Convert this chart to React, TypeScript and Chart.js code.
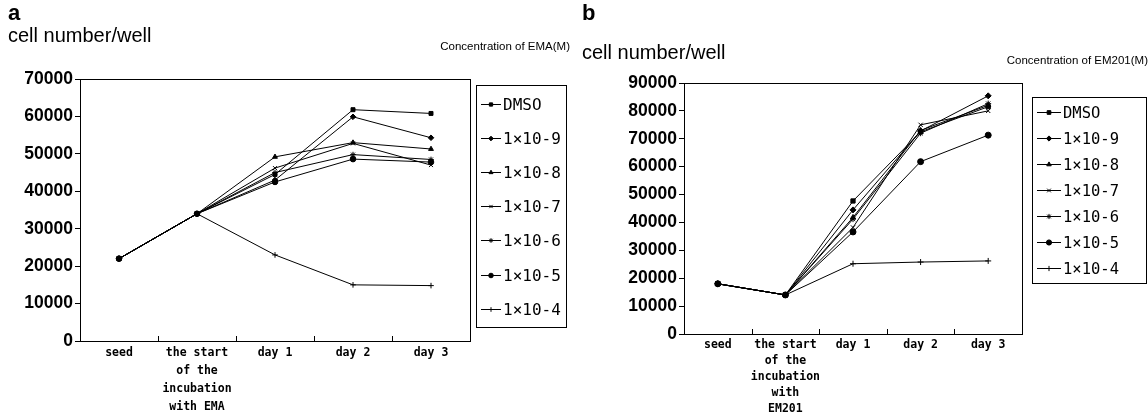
import React, { useEffect, useRef } from 'react';
import { Chart, registerables } from 'chart.js';
import { drawPoint } from 'chart.js/helpers';

Chart.register(...registerables);

// ---------- data ----------
const categoriesA = [['seed'], ['the start', 'of the', 'incubation', 'with EMA'], ['day 1'], ['day 2'], ['day 3']];
const categoriesB = [['seed'], ['the start', 'of the', 'incubation', 'with', 'EM201'], ['day 1'], ['day 2'], ['day 3']];
const seriesNames = ['DMSO', '1×10-9', '1×10-8', '1×10-7', '1×10-6', '1×10-5', '1×10-4'];
const pointStyles = ['rect', 'rectRot', 'triangle', 'crossRot', 'star', 'circle', 'cross'];

const emaDMSO = [22000, 34000, 44500, 61800, 60800];
const emaE9 = [22000, 34000, 43000, 59900, 54300];
const emaE8 = [22000, 34000, 49200, 53000, 51300];
const emaE7 = [22000, 34000, 46200, 52800, 47000];
const emaE6 = [22000, 34000, 45000, 49800, 48500];
const emaE5 = [22000, 34000, 42500, 48600, 47800];
const emaE4 = [22000, 34000, 23000, 15000, 14800];

const emDMSO = [18000, 14000, 47700, 72500, 81500];
const emE9 = [18000, 14000, 44500, 72800, 85400];
const emE8 = [18000, 14000, 41800, 73000, 82000];
const emE7 = [18000, 14000, 38200, 75000, 80000];
const emE6 = [18000, 14000, 41200, 72000, 82600];
const emE5 = [18000, 14000, 36600, 61800, 71300];
const emE4 = [18000, 14000, 25200, 25800, 26200];

const yTicksA = { max: 70000, step: 10000 };
const yTicksB = { max: 90000, step: 10000 };

type PanelCfg = {
  letter: string;
  letterY: number;
  yTitle: string;
  yTitleY: number;
  conc: string;
  concY: number;
  concRight: number;
  legendFont: string;
  legendTop: number;
  legendLeft: number;
  legendRight: number;
  legendRow: number;
  legendPad: number;
  legendLine: number;
  markerR: number;
};

const decorPlugin = {
  id: 'decor',
  afterDraw(chart: any, _args: any, opts: PanelCfg) {
    const ctx = chart.ctx;
    const a = chart.chartArea;
    const xs = chart.scales.x;
    ctx.save();
    ctx.strokeStyle = '#000';
    ctx.lineWidth = 1;
    // plot frame
    ctx.strokeRect(Math.round(a.left) + 0.5, Math.round(a.top) + 0.5, Math.round(a.right - a.left), Math.round(a.bottom - a.top));
    // inner x ticks between categories
    const n = chart.data.labels.length;
    for (let i = 1; i < n; i++) {
      const px = Math.round((xs.getPixelForValue(i - 1) + xs.getPixelForValue(i)) / 2) + 0.5;
      ctx.beginPath();
      ctx.moveTo(px, a.bottom);
      ctx.lineTo(px, a.bottom - 5);
      ctx.stroke();
    }
    // titles
    ctx.fillStyle = '#000';
    ctx.textBaseline = 'alphabetic';
    ctx.textAlign = 'left';
    ctx.font = 'bold 22px "Liberation Sans", Arial, sans-serif';
    ctx.fillText(opts.letter, 8, opts.letterY);
    ctx.font = '20px "Liberation Sans", Arial, sans-serif';
    ctx.fillText(opts.yTitle, 8, opts.yTitleY);
    // legend
    const ds = chart.data.datasets;
    const rows = ds.length;
    const boxTop = opts.legendTop;
    const boxH = opts.legendPad * 2 + opts.legendRow * rows;
    ctx.strokeRect(opts.legendLeft + 0.5, boxTop + 0.5, opts.legendRight - opts.legendLeft, Math.round(boxH));
    ctx.font = opts.legendFont;
    ctx.textBaseline = 'middle';
    for (let i = 0; i < rows; i++) {
      const cy = Math.round(boxTop + opts.legendPad + opts.legendRow * (i + 0.5)) + 0.5;
      const x0 = opts.legendLeft + 5;
      const x1 = x0 + opts.legendLine;
      ctx.beginPath();
      ctx.moveTo(x0, cy);
      ctx.lineTo(x1, cy);
      ctx.stroke();
      drawPoint(ctx, { pointStyle: ds[i].pointStyle, radius: opts.markerR, borderWidth: 1, rotation: 0 } as any, (x0 + x1) / 2, cy);
      ctx.fillText(ds[i].label, x1 + 2, cy + 1);
    }
    // concentration caption
    ctx.textBaseline = 'alphabetic';
    ctx.textAlign = 'right';
    ctx.font = '11.5px "Liberation Sans", Arial, sans-serif';
    ctx.fillText(opts.conc, opts.concRight, opts.concY);
    ctx.restore();
  },
};

function makeConfig(
  labels: string[][],
  series: number[][],
  yt: { max: number; step: number },
  geo: { yW: number; xH: number; top: number; right: number; lineH: number; markerR: number },
  decor: PanelCfg
): any {
  return {
    type: 'line',
    data: {
      labels,
      datasets: series.map((d, i) => ({
        label: seriesNames[i],
        data: d,
        borderColor: '#000',
        backgroundColor: '#000',
        borderWidth: 1,
        pointStyle: pointStyles[i],
        pointRadius: geo.markerR,
        pointBorderWidth: 1,
        pointBorderColor: '#000',
        pointBackgroundColor: '#000',
        tension: 0,
        fill: false,
      })),
    },
    options: {
      responsive: false,
      animation: false,
      events: [],
      layout: { padding: { left: 0, right: geo.right, top: geo.top, bottom: 0 } },
      plugins: {
        legend: { display: false },
        tooltip: { enabled: false },
        decor,
      },
      scales: {
        x: {
          type: 'category',
          offset: true,
          grid: { display: false, drawTicks: false },
          border: { display: false },
          ticks: {
            color: '#000',
            autoSkip: false,
            maxRotation: 0,
            minRotation: 0,
            padding: 3,
            font: { family: '"DejaVu Sans Mono", monospace', size: 11.5, weight: 'bold', lineHeight: geo.lineH / 11.5 },
          },
          afterFit: (s: any) => {
            s.height = geo.xH;
          },
        },
        y: {
          min: 0,
          max: yt.max,
          grid: { display: true, drawOnChartArea: false, drawTicks: true, tickLength: 5, color: '#000', lineWidth: 1 },
          border: { display: false },
          ticks: {
            stepSize: yt.step,
            color: '#000',
            padding: 2,
            callback: (v: any) => String(v),
            font: { family: '"Liberation Sans", Arial, sans-serif', size: 17.5, weight: 'bold' },
          },
          afterFit: (s: any) => {
            s.width = geo.yW;
          },
        },
      },
    },
    plugins: [decorPlugin],
  };
}

function Panel({ left, width, config }: { left: number; width: number; config: any }) {
  const ref = useRef<HTMLCanvasElement | null>(null);
  useEffect(() => {
    if (!ref.current) return;
    const chart = new Chart(ref.current, config);
    return () => chart.destroy();
  }, [config]);
  return (
    <canvas
      ref={ref}
      width={width}
      height={417}
      style={{ position: 'absolute', left, top: 0, width, height: 417 }}
    />
  );
}

const configA = makeConfig(
  categoriesA,
  [emaDMSO, emaE9, emaE8, emaE7, emaE6, emaE5, emaE4],
  yTicksA,
  { yW: 80, xH: 76, top: 79, right: 580 - 470, lineH: 18, markerR: 2.8 },
  {
    letter: 'a',
    letterY: 20,
    yTitle: 'cell number/well',
    yTitleY: 42,
    conc: 'Concentration of EMA(M)',
    concY: 50,
    concRight: 570,
    legendFont: '16px "DejaVu Sans Mono", monospace',
    legendTop: 85,
    legendLeft: 476,
    legendRight: 566,
    legendRow: 34.2,
    legendPad: 1.5,
    legendLine: 20,
    markerR: 2.3,
  }
);

const configB = makeConfig(
  categoriesB,
  [emDMSO, emE9, emE8, emE7, emE6, emE5, emE4],
  yTicksB,
  { yW: 110, xH: 83, top: 83, right: 126, lineH: 16, markerR: 3 },
  {
    letter: 'b',
    letterY: 20,
    yTitle: 'cell number/well',
    yTitleY: 59,
    conc: 'Concentration of EM201(M)',
    concY: 64,
    concRight: 574,
    legendFont: '15.5px "DejaVu Sans Mono", monospace',
    legendTop: 97,
    legendLeft: 458,
    legendRight: 572,
    legendRow: 26,
    legendPad: 2,
    legendLine: 24,
    markerR: 2.6,
  }
);

export default function App() {
  return (
    <div style={{ position: 'fixed', left: 0, top: 0, width: 1148, height: 417, background: '#fff', overflow: 'hidden' }}>
      <Panel left={0} width={580} config={configA} />
      <Panel left={574} width={574} config={configB} />
    </div>
  );
}
